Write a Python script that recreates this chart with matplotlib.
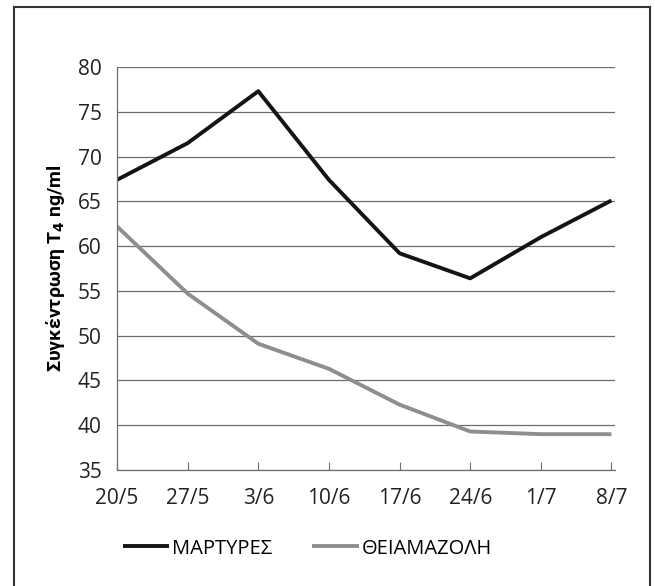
import matplotlib.pyplot as plt
from matplotlib.patches import Rectangle

dates = ["20/5", "27/5", "3/6", "10/6", "17/6", "24/6", "1/7", "8/7"]
martyres = [67.4, 71.5, 77.3, 67.4, 59.2, 56.4, 61.0, 65.1]
thiamazoli = [62.2, 54.7, 49.1, 46.3, 42.3, 39.3, 39.0, 39.0]

plt.rcParams['font.family'] = ['Open Sans', 'DejaVu Sans']

fig = plt.figure(figsize=(6.55, 5.86), dpi=100)
ax = fig.add_axes([117 / 655, 1 - 470 / 586, (615 - 117) / 655, (470 - 67) / 586])

x = list(range(len(dates)))
ax.plot(x, martyres, color="#141414", lw=2.8, label="ΜΑΡΤΥΡΕΣ", solid_capstyle="butt")
ax.plot(x, thiamazoli, color="#8e8e8e", lw=2.8, label="ΘΕΙΑΜΑΖΟΛΗ", solid_capstyle="butt")

ax.set_xlim(0, 7.05)
ax.set_ylim(35, 80)
ax.set_yticks(range(35, 81, 5))
ax.set_xticks(x)
ax.set_xticklabels(dates)

ax.grid(axis="y", color="#6e6e6e", lw=0.9)
ax.set_axisbelow(True)
for s in ["top", "right"]:
    ax.spines[s].set_visible(False)
for s in ["left", "bottom"]:
    ax.spines[s].set_color("#6e6e6e")
    ax.spines[s].set_linewidth(0.9)

ax.tick_params(axis="x", direction="in", length=6, color="#6e6e6e", labelsize=15, pad=13)
ax.tick_params(axis="y", length=0, labelsize=15, pad=11)
for lab in ax.get_xticklabels() + ax.get_yticklabels():
    lab.set_color("#222222")

ax.set_ylabel("Συγκέντρωση T$_\\mathbf{4}$ ng/ml", fontsize=14, fontweight="bold",
              family=["Roboto", "DejaVu Sans"], labelpad=8)

ax.legend(loc="upper left", bbox_to_anchor=(-0.005, -0.15), ncol=2, frameon=False,
          fontsize=14.5, handlelength=2.3, handletextpad=0.15, columnspacing=2.0,
          borderaxespad=0)

fig.patches.append(Rectangle((14 / 655, -0.1), (650 - 14) / 655, 1.1 - 7 / 586,
                             transform=fig.transFigure, fill=False,
                             edgecolor="#333333", lw=1.5, clip_on=False))

fig.savefig("out.png", dpi=100)
